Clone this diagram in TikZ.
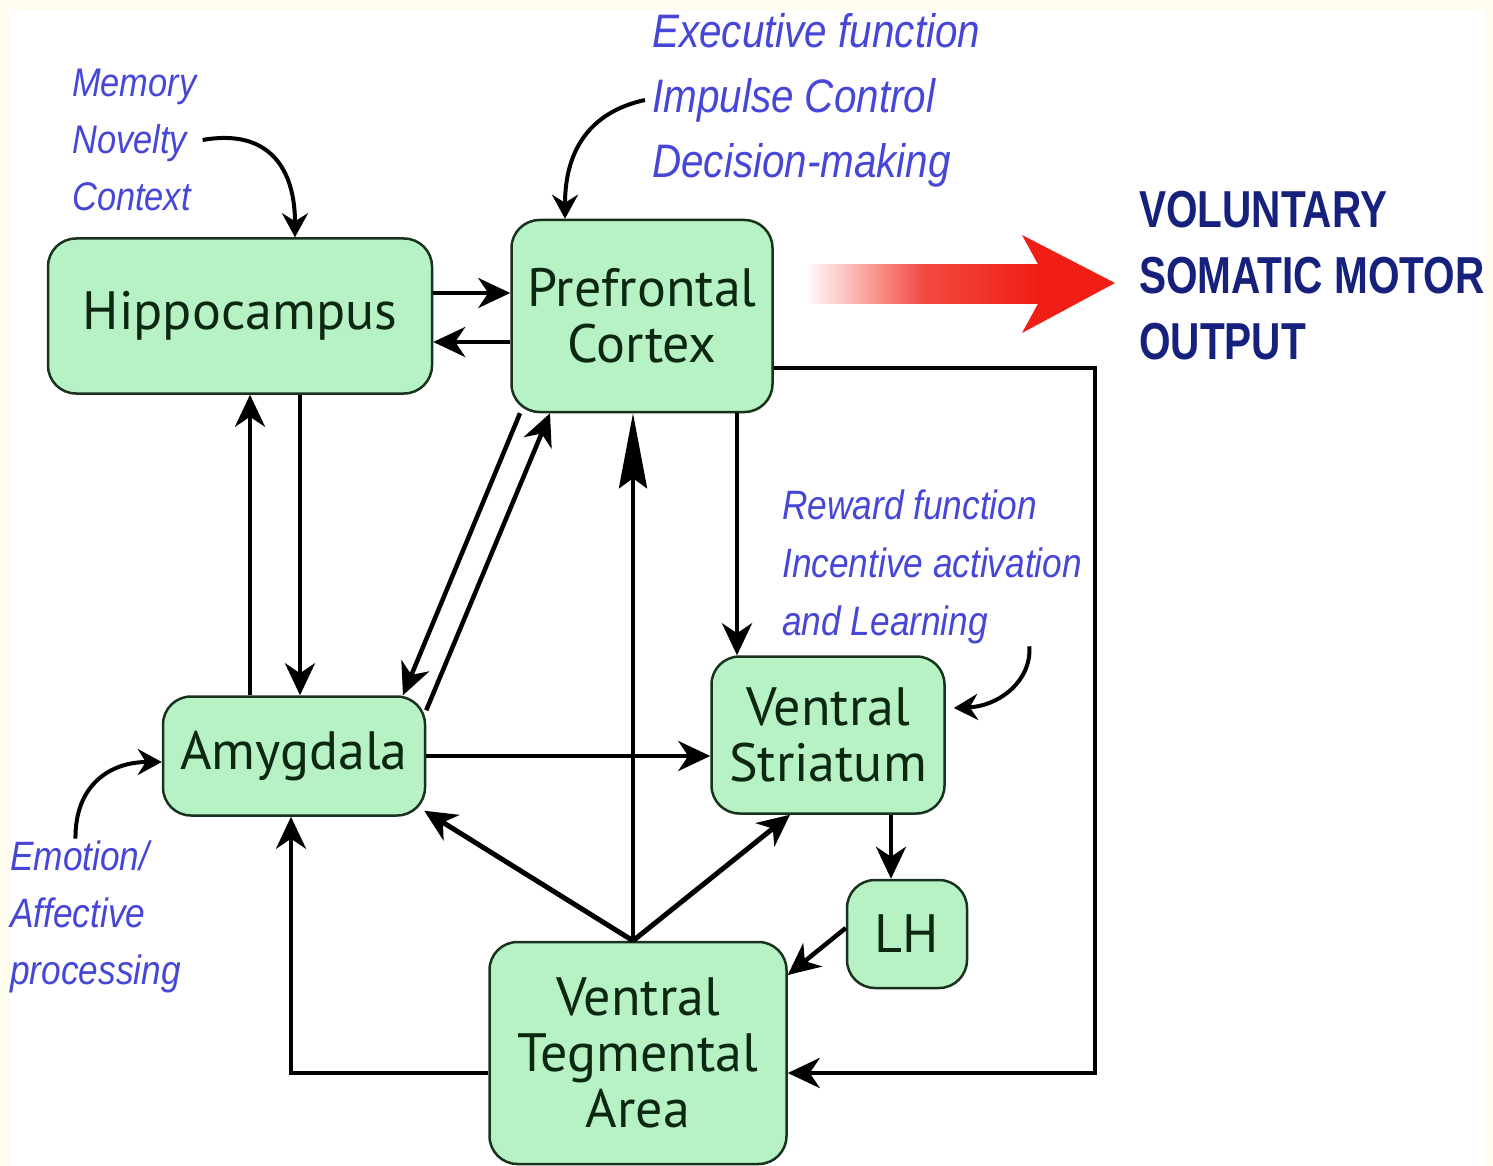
\documentclass[tikz,border=0pt]{standalone}
\usepackage{fontspec}
\usepackage{tikz,xcolor}
\usetikzlibrary{arrows.meta}
\usetikzlibrary{positioning}

\newfontfamily\caixafont{PT Sans}
\newfontfamily\rotulofont[FakeStretch=0.86]{Liberation Sans}
\newfontfamily\saidafont[FakeStretch=0.78]{Liberation Sans}

\definecolor{verdecaixa}{RGB}{182,242,196}
\definecolor{bordacaixa}{RGB}{25,50,30}
\definecolor{textocaixa}{RGB}{12,40,18}
\definecolor{azulrotulo}{RGB}{70,70,215}
\definecolor{azulsaida}{RGB}{22,32,125}
\definecolor{vermelho}{RGB}{240,30,20}
\definecolor{creme}{RGB}{255,254,238}

\tikzset{
  caixa/.style={draw=bordacaixa, line width=2.5pt, fill=verdecaixa, rounded corners=28pt,
    text=textocaixa, font=\caixafont\fontsize{54}{56}\selectfont, align=center, inner sep=0pt},
  seta/.style={-{Stealth[length=32pt,width=30pt,inset=10pt]}, line width=4.5pt},
  curva/.style={-{Stealth[length=24pt,width=26pt,inset=8pt]}, line width=4pt},
  rotulo/.style={text=azulrotulo, align=left, anchor=west, inner sep=0pt}
}

\begin{document}
\begin{tikzpicture}[x=1pt,y=-1pt]
  % Fundo
  \useasboundingbox (0,0) rectangle (1493,1166);
  \fill[creme] (0,0) rectangle (1493,1166);
  \fill[white] (10,10) rectangle (1485,1166);

  % Caixas
  \node[caixa, minimum width=384pt, minimum height=155pt] (hippo) at (240,316) {Hippocampus};
  \node[caixa, minimum width=261pt, minimum height=192pt] (pfc) at (642,316) {Prefrontal\\Cortex};
  \node[caixa, minimum width=262pt, minimum height=119pt] (amy) at (294,756) {Amygdala};
  \node[caixa, minimum width=233pt, minimum height=157pt] (vs) at (828,735) {Ventral\\Striatum};
  \node[caixa, minimum width=120pt, minimum height=108pt] (lh) at (907,934) {LH};
  \node[caixa, minimum width=297pt, minimum height=222pt] (vta) at (638,1053) {Ventral\\Tegmental\\Area};

  % Rotulos
  \node[rotulo, font={\rotulofont\itshape\fontsize{40}{57}\selectfont}] (mem) at (72,140) {Memory\\Novelty\\Context};
  \node[rotulo, font={\rotulofont\itshape\fontsize{47}{65}\selectfont}] (exec) at (652,100) {Executive function\\Impulse Control\\Decision-making};
  \node[rotulo, font={\rotulofont\itshape\fontsize{41}{58}\selectfont}] (rew) at (782,567) {Reward function\\Incentive activation\\and Learning};
  \node[rotulo, font={\rotulofont\itshape\fontsize{41}{57}\selectfont}] (emo) at (10,917) {Emotion/\\Affective\\processing};
  \node[anchor=west, inner sep=0pt, align=left, text=azulsaida,
        font={\saidafont\bfseries\fontsize{52}{66}\selectfont}] (saida) at (1139,276) {VOLUNTARY\\SOMATIC MOTOR\\OUTPUT};

  % Seta vermelha
  \shade[left color=white, right color=vermelho, middle color=vermelho!80!white] (805,265) rectangle (1040,303);
  \fill[vermelho] (1022,235) -- (1115,283) -- (1022,333) -- (1040,300) -- (1040,268) -- cycle;

  % Setas curvas
  \draw[curva] ([xshift=6pt]mem.east) .. controls (270,128) and (295,170) .. ([xshift=55pt]hippo.north);
  \draw[curva] ([xshift=-7pt]exec.west) .. controls (590,112) and (565,150) .. ([xshift=-77pt]pfc.north);
  \draw[curva] ([xshift=-53pt,yshift=-2pt]rew.south east) .. controls (1032,680) and (1000,706) .. ([xshift=8pt,yshift=27pt]vs.east);
  \draw[curva] ([xshift=-20pt,yshift=2pt]emo.north) .. controls (75,785) and (110,762) .. ([yshift=-6pt]amy.west);

  % Hippocampus <-> Prefrontal
  \draw[seta] ([yshift=23pt]hippo.east) -- ([yshift=23pt]pfc.west);
  \draw[seta] ([yshift=-26pt]pfc.west) -- ([yshift=-26pt]hippo.east);

  % Hippocampus <-> Amygdala
  \draw[seta] ([xshift=-44pt]amy.north) -- ([xshift=10pt]hippo.south);
  \draw[seta] ([xshift=60pt]hippo.south) -- ([xshift=6pt]amy.north);

  % Prefrontal <-> Amygdala
  \draw[seta] ([xshift=-122pt]pfc.south) -- ([xshift=109pt]amy.north);
  \draw[seta] ([yshift=-15pt]amy.north east) -- ([xshift=-92pt]pfc.south);

  % Prefrontal -> Ventral Striatum, Amygdala -> Ventral Striatum
  \draw[seta] ([xshift=95pt]pfc.south) -- ([xshift=-91pt]vs.north);
  \draw[seta] (amy.east) -- (vs.west |- amy.east);

  % Saidas da VTA
  \draw[-{Stealth[length=75pt,width=28pt,inset=10pt]}, line width=4.5pt] ([xshift=-5pt]vta.north) -- ([xshift=-9pt]pfc.south);
  \draw[seta, line width=5pt] ([xshift=-5pt]vta.north) -- ([xshift=-2pt,yshift=6pt]amy.south east);
  \draw[seta, line width=5pt] ([xshift=-5pt]vta.north) -- ([xshift=-38pt]vs.south);

  % Ventral Striatum -> LH -> VTA
  \draw[seta] ([xshift=63pt]vs.south) -- ([xshift=-16pt]lh.north);
  \draw[seta] ([yshift=6pt]lh.west) -- ([yshift=78pt]vta.east);

  % Prefrontal -> VTA (volta pela direita) e VTA -> Amygdala
  \coordinate (volta) at (1095,1073);
  \draw[seta] ([yshift=-52pt]pfc.east) -| (volta) -- (vta.east |- volta);
  \draw[seta] (vta.west |- volta) -| ([xshift=-3pt]amy.south);
\end{tikzpicture}
\end{document}
